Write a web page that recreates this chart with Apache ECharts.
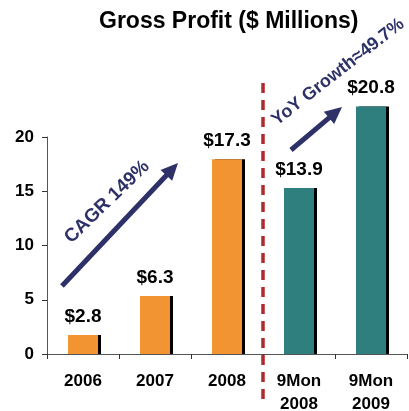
<!DOCTYPE html>
<html><head><meta charset="utf-8">
<script src="https://cdn.jsdelivr.net/npm/echarts@6/dist/echarts.min.js"></script>
<style>html,body{margin:0;padding:0;background:#fff}#c{width:409px;height:411px}</style>
</head><body><div id="c"></div>
<script>
var categories = ['2006', '2007', '2008', '9Mon\n2008', '9Mon\n2009'];
var values = [1.75, 5.35, 17.95, 15.3, 22.8];
var valueLabels = ['$2.8', '$6.3', '$17.3', '$13.9', '$20.8'];
var barColors = ['#F39433', '#F39433', '#F39433', '#2F7F7F', '#2F7F7F'];
var yTicks = [0, 5, 10, 15, 20];

var FONT = 'Liberation Sans, Arial, sans-serif';
var NAVY = '#2E3168';
var chart = echarts.init(document.getElementById('c'), null, {renderer: 'canvas'});

chart.setOption({
  animation: false,
  backgroundColor: '#fff',
  title: {text: 'Gross Profit ($ Millions)', left: 94, top: 5,
    textStyle: {fontFamily: FONT, fontWeight: 'bold', fontSize: 23, color: '#000'}},
  grid: {left: 47, right: 2, top: 137, bottom: 57, containLabel: false, outerBoundsMode: 'none'},
  xAxis: {type: 'category', data: categories,
    axisLine: {lineStyle: {color: '#555', width: 1}},
    axisTick: {show: true, length: 5, lineStyle: {color: '#333'}},
    axisLabel: {fontFamily: FONT, fontWeight: 'bold', fontSize: 17, color: '#000', margin: 16, lineHeight: 23}
  },
  yAxis: {type: 'value', min: yTicks[0], max: yTicks[yTicks.length - 1], interval: 5,
    splitLine: {show: false},
    axisLine: {show: true, lineStyle: {color: '#555', width: 1}},
    axisTick: {show: true, length: 5, lineStyle: {color: '#333'}},
    axisLabel: {fontFamily: FONT, fontWeight: 'bold', fontSize: 17, color: '#000', margin: 13}
  },
  series: [{
    type: 'bar', clip: false, barWidth: 30,
    data: values.map(function (v, i) {
      return {value: v, itemStyle: {color: barColors[i]}};
    }),
    itemStyle: {shadowColor: '#000', shadowBlur: 0, shadowOffsetX: 3, shadowOffsetY: 0},
    label: {show: true, position: 'top', distance: 9,
      formatter: function (p) { return valueLabels[p.dataIndex]; },
      fontFamily: FONT, fontWeight: 'bold', fontSize: 19, color: '#000'}
  }]
});

function arrow(x1, y1, x2, y2) {
  var ang = Math.atan2(y2 - y1, x2 - x1);
  var hl = 17, hw = 8;
  var bx = x2 - hl * Math.cos(ang), by = y2 - hl * Math.sin(ang);
  var px = -Math.sin(ang), py = Math.cos(ang);
  return [
    {type: 'line', shape: {x1: x1, y1: y1, x2: bx + 2 * Math.cos(ang), y2: by + 2 * Math.sin(ang)},
      style: {stroke: NAVY, lineWidth: 5}},
    {type: 'polygon', shape: {points: [[x2, y2], [bx + px * hw, by + py * hw], [bx - px * hw, by - py * hw]]},
      style: {fill: NAVY}}
  ];
}

var p2 = chart.convertToPixel({xAxisIndex: 0}, categories[2]);
var p3 = chart.convertToPixel({xAxisIndex: 0}, categories[3]);
var divX = (p2 + p3) / 2;
var graphics = [
  {type: 'line', shape: {x1: divX, y1: 83, x2: divX, y2: 406},
    style: {stroke: '#AE2A2F', lineWidth: 3.5, lineDash: [10, 7]}, z: 10},
  {type: 'text', x: 107, y: 202, rotation: 44 * Math.PI / 180,
    style: {text: 'CAGR 149%', fill: NAVY, font: 'bold 19px ' + FONT, align: 'center', verticalAlign: 'middle'}},
  {type: 'text', x: 338, y: 72, rotation: 38 * Math.PI / 180,
    style: {text: 'YoY Growth\u224849.7%', fill: NAVY, font: 'bold 18px ' + FONT, align: 'center', verticalAlign: 'middle'}}
].concat(arrow(62, 286, 178, 163)).concat(arrow(291, 150, 342, 107));
chart.setOption({graphic: graphics});
</script></body></html>
